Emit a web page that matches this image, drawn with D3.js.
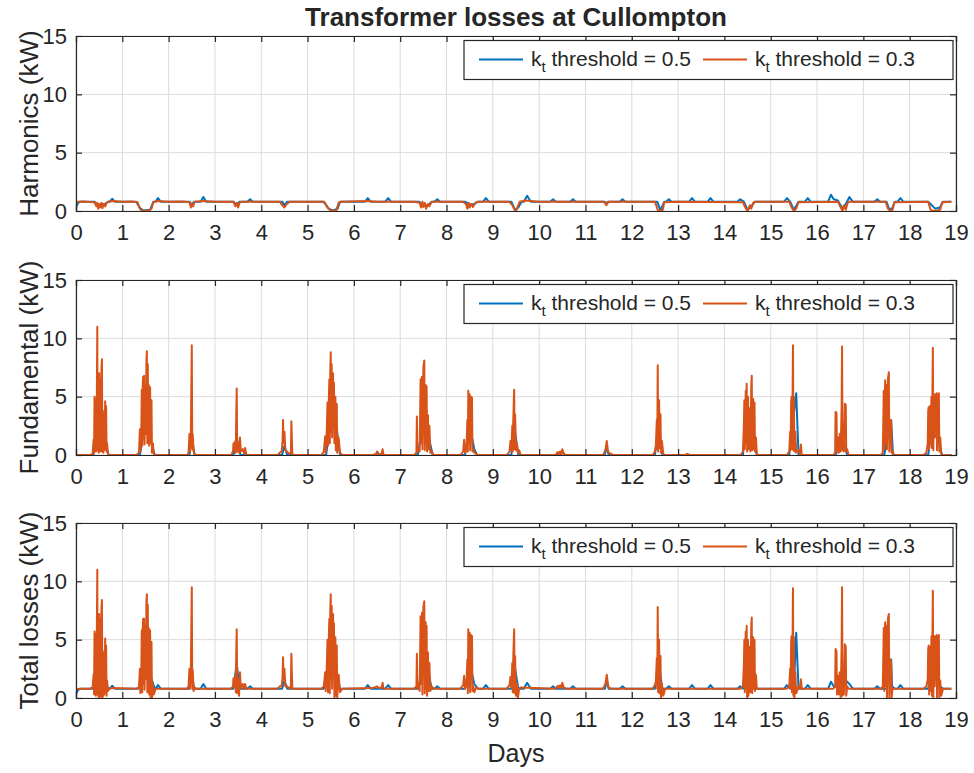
<!DOCTYPE html>
<html><head><meta charset="utf-8">
<script src="https://cdn.jsdelivr.net/npm/d3@7"></script>
<style>
body{margin:0;background:#fff;}
text{font-family:"Liberation Sans",Arial,sans-serif;fill:#262626;}
</style></head>
<body><svg id="c" width="974" height="773"></svg>
<script>
// ---------- data ----------
const chartTitle = "Transformer losses at Cullompton";
const xLabel = "Days";
const panelLabels = ["Harmonics (kW)", "Fundamental (kW)", "Total losses (kW)"];
const seriesNames = ["threshold = 0.5", "threshold = 0.3"];
const xTicks = d3.range(0, 20);
const yTicks = [0, 5, 10, 15];

// Harmonic losses, k_t threshold = 0.5 (blue)
const harmBlue = [[0,0.3],[0.03,0.6],[0.08,0.8],[0.4,0.8],[0.45,0.5],[0.5,0.4],[0.55,0.6],[0.62,0.6],[0.7,0.8],[0.73,0.8],[0.78,1.05],[0.84,0.8],[1.3,0.8],[1.38,0.25],[1.45,0.05],[1.6,0.1],[1.67,0.8],[1.72,0.8],[1.77,1.1],[1.83,0.8],[2.45,0.8],[2.5,0.55],[2.55,0.8],[2.69,0.8],[2.75,1.2],[2.81,0.8],[3.4,0.8],[3.47,0.5],[3.53,0.8],[3.7,0.8],[3.76,1.0],[3.82,0.8],[4.45,0.8],[4.5,0.5],[4.56,0.8],[5.35,0.8],[5.45,0.2],[5.55,0.05],[5.65,0.2],[5.7,0.8],[6.24,0.8],[6.3,1.1],[6.36,0.8],[6.68,0.8],[6.74,1.1],[6.8,0.8],[7.4,0.8],[7.5,0.5],[7.6,0.5],[7.68,0.8],[7.74,0.8],[7.8,1.0],[7.86,0.8],[8.4,0.8],[8.5,0.55],[8.6,0.6],[8.68,0.8],[8.79,0.8],[8.85,1.1],[8.91,0.8],[9.4,0.8],[9.48,0.1],[9.55,0.3],[9.62,0.8],[9.67,0.8],[9.74,1.3],[9.82,0.8],[10.24,0.8],[10.3,1.0],[10.36,0.8],[10.67,0.8],[10.73,1.0],[10.79,0.8],[11.4,0.8],[11.45,0.7],[11.5,0.8],[11.74,0.8],[11.8,1.0],[11.86,0.8],[12.55,0.8],[12.62,0.05],[12.7,0.8],[12.74,0.8],[12.8,1.0],[12.86,0.8],[13.24,0.8],[13.3,1.1],[13.36,0.8],[13.64,0.8],[13.7,1.1],[13.76,0.8],[14.28,0.8],[14.34,1.0],[14.42,0.8],[14.5,0.1],[14.6,0.5],[14.66,0.8],[15.29,0.8],[15.35,1.1],[15.42,0.8],[15.5,0.1],[15.6,0.8],[15.74,0.8],[15.8,1.1],[15.86,0.8],[16.24,0.8],[16.3,1.4],[16.36,1.0],[16.45,0.9],[16.55,0.2],[16.62,0.6],[16.7,1.2],[16.77,0.8],[17.24,0.8],[17.3,1.0],[17.36,0.8],[17.5,0.8],[17.55,0.2],[17.62,0.2],[17.68,0.8],[17.74,0.8],[17.8,1.1],[17.86,0.8],[18.4,0.8],[18.45,0.6],[18.55,0.2],[18.65,0.3],[18.72,0.8],[18.9,0.8]];

// Harmonic losses, k_t threshold = 0.3 (orange)
const harmOrange = [[0,0.75],[0.05,0.8],[0.15,0.82],[0.3,0.78],[0.4,0.75],[0.44,0.4],[0.46,0.7],[0.48,0.2],[0.5,0.6],[0.52,0.3],[0.55,0.7],[0.57,0.25],[0.6,0.6],[0.63,0.4],[0.66,0.7],[0.7,0.8],[0.8,0.85],[1.0,0.8],[1.2,0.82],[1.33,0.75],[1.38,0.2],[1.42,0.05],[1.5,0.0],[1.58,0.05],[1.63,0.2],[1.67,0.75],[1.75,0.85],[2.0,0.8],[2.3,0.82],[2.45,0.75],[2.48,0.3],[2.5,0.6],[2.53,0.4],[2.56,0.8],[2.75,0.85],[3.0,0.8],[3.4,0.8],[3.44,0.4],[3.47,0.7],[3.5,0.3],[3.53,0.7],[3.58,0.8],[3.8,0.8],[4.4,0.8],[4.45,0.5],[4.5,0.3],[4.55,0.6],[4.62,0.8],[4.7,0.8],[5.35,0.8],[5.42,0.4],[5.48,0.1],[5.55,0.0],[5.62,0.05],[5.67,0.7],[5.72,0.8],[6.3,0.85],[6.5,0.8],[7.3,0.8],[7.42,0.7],[7.45,0.3],[7.48,0.8],[7.5,0.35],[7.53,0.7],[7.56,0.2],[7.6,0.6],[7.63,0.4],[7.68,0.8],[8.35,0.8],[8.42,0.6],[8.45,0.2],[8.48,0.7],[8.5,0.3],[8.53,0.6],[8.57,0.35],[8.62,0.7],[8.68,0.8],[9.35,0.8],[9.42,0.5],[9.47,0.1],[9.5,0.0],[9.53,0.3],[9.58,0.8],[9.7,0.9],[10.0,0.8],[11.4,0.8],[11.45,0.5],[11.5,0.8],[12.5,0.8],[12.56,0.1],[12.62,0.0],[12.67,0.1],[12.7,0.75],[13.0,0.8],[14.4,0.75],[14.45,0.3],[14.5,0.0],[14.55,0.5],[14.58,0.2],[14.62,0.7],[14.66,0.8],[15.4,0.8],[15.45,0.3],[15.5,0.0],[15.55,0.2],[15.6,0.75],[16.45,0.8],[16.5,0.4],[16.55,0.0],[16.58,0.5],[16.62,0.1],[16.66,0.7],[16.7,0.8],[17.48,0.8],[17.53,0.2],[17.58,0.0],[17.63,0.1],[17.67,0.75],[18.4,0.8],[18.45,0.1],[18.5,0.0],[18.6,0.05],[18.66,0.1],[18.7,0.75],[18.9,0.8]];

// Fundamental losses, threshold = 0.5 (blue)
const fundBlue = [[0,0],[0.38,0],[0.46,3],[0.56,2.5],[0.7,0],[1.38,0],[1.5,3],[1.6,1.5],[1.7,0],[2.45,0],[2.5,1.5],[2.56,0],[3.4,0],[3.47,1.5],[3.55,0],[4.45,0],[4.5,0.8],[4.56,0],[5.4,0],[5.5,3],[5.6,3.3],[5.7,0],[6.5,0],[6.52,0.2],[6.55,0],[7.38,0],[7.5,3],[7.62,1.5],[7.7,0],[8.4,0],[8.5,2.5],[8.6,0.5],[8.66,0],[9.4,0],[9.46,2.5],[9.55,0],[10.45,0],[10.5,0.3],[10.55,0],[11.42,0],[11.45,0.8],[11.5,0],[12.5,0],[12.58,2.5],[12.66,0],[14.4,0],[14.47,3.0],[14.6,1.5],[14.7,0],[15.4,0],[15.55,5.3],[15.6,0],[16.4,0],[16.55,1.5],[16.65,0],[17.45,0],[17.6,3.0],[17.64,0],[18.4,0],[18.47,2],[18.6,1.5],[18.7,0],[18.9,0]];

// Fundamental losses, threshold = 0.3 (orange)
const fundOrange = [[0,0],[0.3,0],[0.36,0.1],[0.38,1.3],[0.39,0.2],[0.4,5.0],[0.41,0.5],[0.42,4.8],[0.43,0.3],[0.45,5.2],[0.46,11.0],[0.465,0.4],[0.48,6.8],[0.49,0.2],[0.5,7.0],[0.51,1.0],[0.52,6.5],[0.53,0.3],[0.55,7.5],[0.56,8.2],[0.57,0.3],[0.58,3.8],[0.59,0.2],[0.6,3.5],[0.61,0.4],[0.63,4.6],[0.64,0.5],[0.65,4.2],[0.66,0.3],[0.67,1.0],[0.69,0.1],[0.72,0],
[1.3,0],[1.36,0.2],[1.38,2.2],[1.39,0.3],[1.41,2.0],[1.42,5.6],[1.43,0.8],[1.44,5.8],[1.45,6.7],[1.46,1.5],[1.47,6.8],[1.48,0.9],[1.5,6.0],[1.51,1.8],[1.52,8.0],[1.53,8.9],[1.54,1.0],[1.55,7.8],[1.56,2.0],[1.57,6.0],[1.58,0.8],[1.6,5.8],[1.61,1.0],[1.63,4.7],[1.64,0.2],[1.66,1.0],[1.68,0.1],[1.72,0],
[2.4,0],[2.43,0.2],[2.45,1.8],[2.46,0.3],[2.48,1.9],[2.5,9.4],[2.51,0.5],[2.52,1.8],[2.54,0.3],[2.56,0.1],[2.6,0],
[3.35,0],[3.39,0.3],[3.4,1.0],[3.42,0.4],[3.44,1.2],[3.45,0.2],[3.46,3.5],[3.47,5.7],[3.48,0.3],[3.5,1.0],[3.52,0.2],[3.54,1.5],[3.56,0.3],[3.6,0.5],[3.63,0.1],[3.65,0.6],[3.68,0],
[4.35,0],[4.4,0.2],[4.44,0.3],[4.46,1.2],[4.47,3.0],[4.48,1.0],[4.5,2.0],[4.52,0.4],[4.56,0.3],[4.6,0.1],[4.64,0.2],[4.65,2.9],[4.67,0.1],[4.7,0],
[5.3,0],[5.35,0.3],[5.38,1.6],[5.39,0.2],[5.41,1.5],[5.43,4.5],[5.44,0.8],[5.46,5.0],[5.47,6.5],[5.48,1.0],[5.49,7.2],[5.5,8.8],[5.51,2.0],[5.52,7.8],[5.53,1.5],[5.55,7.0],[5.56,3.4],[5.57,6.2],[5.58,1.0],[5.6,5.0],[5.61,0.4],[5.63,4.4],[5.64,0.2],[5.67,1.5],[5.7,0.2],[5.75,0],
[6.4,0],[6.48,0.1],[6.5,0.3],[6.53,0.05],[6.6,0.1],[6.62,0.5],[6.64,0],
[7.3,0],[7.35,0.2],[7.36,3.3],[7.37,0.3],[7.4,0.5],[7.42,0.3],[7.44,6.5],[7.45,1.0],[7.47,6.7],[7.48,0.5],[7.5,7.5],[7.52,8.1],[7.53,0.4],[7.55,6.0],[7.56,1.0],[7.57,5.9],[7.58,0.3],[7.6,3.4],[7.61,0.5],[7.63,2.5],[7.65,0.2],[7.68,0.3],[7.72,0],
[8.3,0],[8.36,0.3],[8.38,1.3],[8.4,0.2],[8.43,0.5],[8.45,3.0],[8.46,0.3],[8.47,5.5],[8.48,1.0],[8.5,5.2],[8.51,0.4],[8.53,5.0],[8.55,4.9],[8.56,0.3],[8.58,0.5],[8.6,0.2],[8.64,0.1],[8.68,0],
[9.3,0],[9.36,0.3],[9.38,1.2],[9.4,0.4],[9.42,2.5],[9.43,0.3],[9.44,2.8],[9.46,5.6],[9.47,0.5],[9.48,3.5],[9.5,0.4],[9.52,1.0],[9.54,0.2],[9.57,0.4],[9.6,0],
[10.35,0],[10.4,0.25],[10.42,0.05],[10.45,0.3],[10.48,0.05],[10.5,0.5],[10.53,0.1],[10.58,0],
[11.38,0],[11.43,0.4],[11.46,1.2],[11.48,0.5],[11.5,0.2],[11.55,0.1],[11.6,0],
[12.45,0],[12.5,0.3],[12.52,0.8],[12.54,3.0],[12.55,0.5],[12.56,7.7],[12.57,0.3],[12.59,4.7],[12.6,0.6],[12.62,3.5],[12.63,0.2],[12.65,1.2],[12.68,0.1],[12.72,0],
[13.15,0],[13.2,0.1],[13.25,0],
[14.35,0],[14.4,0.3],[14.42,2.5],[14.43,4.7],[14.44,0.5],[14.46,5.5],[14.47,1.0],[14.48,6.1],[14.49,0.3],[14.51,5.0],[14.52,0.5],[14.55,4.0],[14.56,0.3],[14.58,6.0],[14.59,6.8],[14.6,0.4],[14.62,4.8],[14.63,0.5],[14.65,4.5],[14.66,0.3],[14.68,1.5],[14.7,0.1],[14.74,0],
[15.35,0],[15.4,0.3],[15.42,2.0],[15.43,0.5],[15.44,4.5],[15.45,5.0],[15.46,0.5],[15.47,4.0],[15.48,9.4],[15.49,0.4],[15.5,5.0],[15.51,0.3],[15.53,2.0],[15.55,0.2],[15.6,0.4],[15.63,0.1],[15.65,0.9],[15.67,0],
[16.35,0],[16.39,0.2],[16.4,3.7],[16.42,3.6],[16.43,0.3],[16.45,1.5],[16.47,0.2],[16.49,1.8],[16.51,0.3],[16.53,4.0],[16.54,9.3],[16.55,0.4],[16.57,2.0],[16.58,0.3],[16.6,4.4],[16.62,4.3],[16.63,0.3],[16.65,0.5],[16.68,0],
[17.38,0],[17.42,0.2],[17.44,5.5],[17.45,0.5],[17.47,6.4],[17.48,1.0],[17.5,6.0],[17.51,0.5],[17.53,6.5],[17.55,7.1],[17.56,0.3],[17.58,3.0],[17.6,3.0],[17.61,0.2],[17.63,0.4],[17.66,0],
[18.3,0],[18.36,0.2],[18.39,1.0],[18.4,3.8],[18.41,4.1],[18.42,0.5],[18.44,4.2],[18.45,1.0],[18.47,5.0],[18.48,0.6],[18.5,9.2],[18.51,0.4],[18.53,5.2],[18.54,1.5],[18.56,5.0],[18.58,5.3],[18.59,0.4],[18.61,5.0],[18.63,5.3],[18.64,0.3],[18.66,1.5],[18.68,0.1],[18.72,0],[18.9,0]];

// Total losses, threshold = 0.5 (blue)
const totalBlue = [[0,0.3],[0.03,0.6],[0.08,0.8],[0.36,0.8],[0.46,4],[0.56,3],[0.66,1],[0.72,0.8],[0.73,0.8],[0.78,1.05],[0.84,0.8],[1.35,0.8],[1.5,4],[1.6,2],[1.7,0.8],[1.72,0.8],[1.77,1.1],[1.83,0.8],[2.45,0.8],[2.5,2.2],[2.55,0.8],[2.69,0.8],[2.75,1.2],[2.81,0.8],[3.4,0.8],[3.47,3.0],[3.53,0.8],[3.7,0.8],[3.76,1.0],[3.82,0.8],[4.45,0.8],[4.5,1.5],[4.56,0.8],[5.35,0.8],[5.5,4],[5.56,3.5],[5.7,0.8],[6.24,0.8],[6.3,1.1],[6.36,0.8],[6.68,0.8],[6.74,1.1],[6.8,0.8],[7.4,0.8],[7.5,4],[7.62,2],[7.68,0.8],[7.74,0.8],[7.8,1.0],[7.86,0.8],[8.4,0.8],[8.5,3],[8.6,1.2],[8.68,0.8],[8.79,0.8],[8.85,1.1],[8.91,0.8],[9.4,0.8],[9.46,3],[9.55,0.8],[9.67,0.8],[9.74,1.3],[9.82,0.8],[10.24,0.8],[10.3,1.0],[10.36,0.8],[10.67,0.8],[10.73,1.0],[10.79,0.8],[11.42,0.8],[11.46,1.5],[11.5,0.8],[11.74,0.8],[11.8,1.0],[11.86,0.8],[12.5,0.8],[12.58,3],[12.66,0.8],[12.74,0.8],[12.8,1.0],[12.86,0.8],[13.24,0.8],[13.3,1.1],[13.36,0.8],[13.64,0.8],[13.7,1.1],[13.76,0.8],[14.28,0.8],[14.34,1.0],[14.4,0.8],[14.47,3.3],[14.6,2],[14.66,0.8],[15.29,0.8],[15.35,1.1],[15.42,0.8],[15.5,0.9],[15.55,5.6],[15.6,0.8],[15.74,0.8],[15.8,1.1],[15.86,0.8],[16.24,0.8],[16.3,1.4],[16.36,1.0],[16.45,0.9],[16.55,2],[16.62,1.5],[16.7,1.2],[16.77,0.8],[17.24,0.8],[17.3,1.0],[17.36,0.8],[17.5,0.8],[17.6,3.3],[17.62,1.0],[17.68,0.8],[17.74,0.8],[17.8,1.1],[17.86,0.8],[18.4,0.8],[18.47,2.5],[18.55,2],[18.65,1.0],[18.72,0.8],[18.9,0.8]];

// Total losses, threshold = 0.3 (orange)
const totalOrange = [[0,0.75],[0.1,0.8],[0.3,0.8],[0.36,0.9],[0.38,2.0],[0.39,0.3],[0.4,5.7],[0.41,0.5],[0.42,5.5],[0.43,0.2],[0.45,5.8],[0.46,11.0],[0.465,0.3],[0.48,7.0],[0.49,0.0],[0.5,7.2],[0.51,1.0],[0.52,6.8],[0.53,0.1],[0.55,7.8],[0.56,8.4],[0.57,0.0],[0.58,4.0],[0.59,0.2],[0.6,3.8],[0.61,0.3],[0.63,5.1],[0.64,0.4],[0.65,4.5],[0.66,0.2],[0.67,1.5],[0.69,0.6],[0.72,0.8],[0.78,0.85],[1.3,0.8],
[1.36,0.9],[1.38,2.5],[1.39,0.4],[1.41,2.3],[1.42,5.8],[1.43,0.5],[1.44,5.8],[1.45,6.8],[1.46,1.2],[1.47,6.8],[1.48,0.7],[1.5,6.2],[1.51,1.6],[1.52,8.2],[1.53,8.9],[1.54,0.5],[1.55,8.0],[1.56,1.8],[1.57,6.0],[1.58,0.3],[1.6,5.8],[1.61,0.0],[1.63,4.8],[1.64,0.0],[1.66,1.2],[1.68,0.3],[1.72,0.8],
[2.4,0.8],[2.43,1.0],[2.45,2.5],[2.46,0.8],[2.48,2.6],[2.5,9.5],[2.51,0.8],[2.52,2.4],[2.54,0.6],[2.56,0.9],[2.6,0.8],
[3.35,0.8],[3.39,1.0],[3.4,1.7],[3.42,1.0],[3.44,1.8],[3.45,0.5],[3.46,4.0],[3.47,5.9],[3.48,0.4],[3.5,1.6],[3.52,0.2],[3.54,2.2],[3.56,0.8],[3.6,1.2],[3.63,0.8],[3.65,1.2],[3.68,0.8],
[4.35,0.8],[4.4,1.0],[4.44,1.0],[4.46,1.8],[4.47,3.5],[4.48,1.6],[4.5,2.5],[4.52,1.0],[4.56,1.0],[4.6,0.8],[4.64,1.0],[4.65,3.8],[4.67,0.8],[4.7,0.8],
[5.3,0.8],[5.35,1.0],[5.38,2.2],[5.39,0.6],[5.41,2.0],[5.43,5.0],[5.44,0.5],[5.46,5.4],[5.47,6.8],[5.48,0.4],[5.49,7.5],[5.5,8.9],[5.51,1.6],[5.52,7.9],[5.53,0.8],[5.55,7.2],[5.56,3.5],[5.57,6.4],[5.58,0.0],[5.6,5.2],[5.61,0.2],[5.63,4.5],[5.64,0.0],[5.67,2.0],[5.7,0.5],[5.75,0.8],
[6.4,0.85],[6.5,1.0],[6.53,0.85],[6.6,0.9],[6.62,1.3],[6.64,0.8],
[7.3,0.8],[7.35,1.0],[7.36,3.8],[7.37,0.8],[7.4,1.3],[7.42,0.6],[7.44,7.0],[7.45,1.2],[7.47,7.3],[7.48,0.3],[7.5,7.8],[7.52,8.3],[7.53,0.4],[7.55,6.5],[7.56,0.8],[7.57,6.2],[7.58,0.2],[7.6,3.9],[7.61,0.6],[7.63,3.0],[7.65,0.6],[7.68,1.0],[7.72,0.8],
[8.3,0.8],[8.36,1.1],[8.38,1.9],[8.4,0.8],[8.43,1.1],[8.45,3.3],[8.46,0.4],[8.47,5.9],[8.48,1.0],[8.5,5.6],[8.51,0.5],[8.53,5.4],[8.55,5.3],[8.56,0.6],[8.58,1.0],[8.6,0.5],[8.64,0.9],[8.68,0.8],
[9.3,0.8],[9.36,1.1],[9.38,1.8],[9.4,0.9],[9.42,3.0],[9.43,0.5],[9.44,3.3],[9.46,5.9],[9.47,0.4],[9.48,3.6],[9.5,0.2],[9.52,1.2],[9.54,0.0],[9.57,0.8],[9.6,0.9],
[10.35,0.8],[10.4,1.05],[10.42,0.85],[10.45,1.1],[10.48,0.85],[10.5,1.3],[10.53,0.9],[10.58,0.8],
[11.38,0.8],[11.43,1.2],[11.46,2.0],[11.48,1.3],[11.5,0.9],[11.55,0.8],
[12.45,0.8],[12.5,1.1],[12.52,1.4],[12.54,3.4],[12.55,0.8],[12.56,7.8],[12.57,0.5],[12.59,5.0],[12.6,0.4],[12.62,3.6],[12.63,0.0],[12.65,1.2],[12.68,0.2],[12.72,0.8],
[14.35,0.8],[14.4,1.0],[14.42,2.8],[14.43,5.0],[14.44,0.5],[14.46,5.7],[14.47,0.8],[14.48,6.2],[14.49,0.0],[14.51,5.0],[14.52,0.2],[14.55,4.4],[14.56,0.5],[14.58,6.3],[14.59,6.9],[14.6,0.4],[14.62,5.2],[14.63,0.8],[14.65,5.0],[14.66,0.6],[14.68,2.0],[14.7,0.8],[14.74,0.8],
[15.35,0.8],[15.4,1.0],[15.42,2.5],[15.43,0.8],[15.44,4.8],[15.45,5.3],[15.46,0.5],[15.47,4.2],[15.48,9.4],[15.49,0.2],[15.5,5.2],[15.51,0.0],[15.53,2.2],[15.55,0.4],[15.6,1.0],[15.63,0.8],[15.65,1.6],[15.67,0.8],
[16.35,0.8],[16.39,1.0],[16.4,4.2],[16.42,4.0],[16.43,0.3],[16.45,1.9],[16.47,0.3],[16.49,2.2],[16.51,0.0],[16.53,4.3],[16.54,9.5],[16.55,0.2],[16.57,2.3],[16.58,0.3],[16.6,4.6],[16.62,4.4],[16.63,0.2],[16.65,1.0],[16.68,0.8],
[17.38,0.8],[17.42,1.0],[17.44,6.0],[17.45,0.6],[17.47,6.5],[17.48,1.0],[17.5,6.2],[17.51,0.0],[17.53,6.8],[17.55,7.2],[17.56,0.0],[17.58,3.3],[17.6,3.1],[17.61,0.0],[17.63,0.8],[17.66,0.8],
[18.3,0.8],[18.36,1.0],[18.39,1.6],[18.4,4.2],[18.41,4.5],[18.42,0.3],[18.44,4.4],[18.45,0.6],[18.47,5.3],[18.48,0.2],[18.5,9.2],[18.51,0.0],[18.53,5.3],[18.54,1.0],[18.56,5.2],[18.58,5.4],[18.59,0.0],[18.61,5.1],[18.63,5.4],[18.64,0.0],[18.66,1.5],[18.68,0.2],[18.72,0.8],[18.9,0.8]];

const colors = ["#0072BD", "#D95319"];
const panels = [
  {label: panelLabels[0], series: [harmBlue, harmOrange]},
  {label: panelLabels[1], series: [fundBlue, fundOrange]},
  {label: panelLabels[2], series: [totalBlue, totalOrange]}
];

// ---------- layout ----------
const svg = d3.select("#c");
const L = 76, R = 956, H = 175;
const tops = [36, 280, 523];
const x = d3.scaleLinear().domain([0, 19]).range([L, R]);
const axisColor = "#262626";

svg.append("text").attr("x", (L + R) / 2).attr("y", 26)
  .attr("text-anchor", "middle").attr("font-size", 26).attr("font-weight", "bold")
  .text(chartTitle);

panels.forEach((p, i) => {
  const top = tops[i], bot = top + H;
  const y = d3.scaleLinear().domain([0, 15]).range([bot, top]);
  const g = svg.append("g");
  // grid
  g.append("g").selectAll("line").data(xTicks).join("line")
    .attr("x1", d => x(d)).attr("x2", d => x(d)).attr("y1", top).attr("y2", bot)
    .attr("stroke", "#dcdcdc").attr("stroke-width", 1);
  g.append("g").selectAll("line").data(yTicks).join("line")
    .attr("y1", d => y(d)).attr("y2", d => y(d)).attr("x1", L).attr("x2", R)
    .attr("stroke", "#dcdcdc").attr("stroke-width", 1);
  // clip
  const cid = "clip" + i;
  svg.append("clipPath").attr("id", cid).append("rect")
    .attr("x", L).attr("y", top).attr("width", R - L).attr("height", H);
  const line = d3.line().x(d => x(d[0])).y(d => y(d[1]));
  p.series.forEach((s, k) => {
    g.append("path").attr("d", line(s)).attr("clip-path", `url(#${cid})`)
      .attr("fill", "none").attr("stroke", colors[k]).attr("stroke-width", 2)
      .attr("stroke-linejoin", "round");
  });
  // axes
  const xa = g.append("g").attr("transform", `translate(0,${bot})`)
    .call(d3.axisBottom(x).tickValues(xTicks).tickSize(-6).tickPadding(13).tickFormat(d3.format("d")));
  const xt = g.append("g").attr("transform", `translate(0,${top})`)
    .call(d3.axisTop(x).tickValues(xTicks).tickSize(-6).tickFormat(""));
  const ya = g.append("g").attr("transform", `translate(${L},0)`)
    .call(d3.axisLeft(y).tickValues(yTicks).tickSize(-6).tickPadding(9));
  const yr = g.append("g").attr("transform", `translate(${R},0)`)
    .call(d3.axisRight(y).tickValues(yTicks).tickSize(-6).tickFormat(""));
  [xa, xt, ya, yr].forEach(a => {
    a.select(".domain").attr("stroke", axisColor).attr("stroke-width", 1.2);
    a.selectAll(".tick line").attr("stroke", axisColor).attr("stroke-width", 1.2);
    a.selectAll(".tick text").attr("font-size", 22).attr("fill", axisColor)
      .attr("font-family", "Liberation Sans, Arial, sans-serif");
  });
  // y label
  svg.append("text").attr("transform", `translate(29,${(top + bot) / 2}) rotate(-90)`)
    .attr("text-anchor", "middle").attr("dy", "0.35em").attr("font-size", 26)
    .text(p.label);
  // legend
  const lg = svg.append("g").attr("transform", `translate(464,${top + 4.5})`);
  lg.append("rect").attr("width", 489).attr("height", 39)
    .attr("fill", "#fff").attr("stroke", axisColor).attr("stroke-width", 1.2);
  const items = [{x0: 15, tx: 67}, {x0: 239, tx: 291}];
  items.forEach((it, k) => {
    lg.append("line").attr("x1", it.x0).attr("x2", it.x0 + 44).attr("y1", 19).attr("y2", 19)
      .attr("stroke", colors[k]).attr("stroke-width", 2);
    const t = lg.append("text").attr("x", it.tx).attr("y", 25).attr("font-size", 21);
    t.append("tspan").text("k");
    t.append("tspan").attr("font-size", 15).attr("dy", 6).text("t");
    t.append("tspan").attr("dy", -6).text(" " + seriesNames[k]);
  });
});

svg.append("text").attr("x", (L + R) / 2).attr("y", 762)
  .attr("text-anchor", "middle").attr("font-size", 25).text(xLabel);
</script></body></html>
